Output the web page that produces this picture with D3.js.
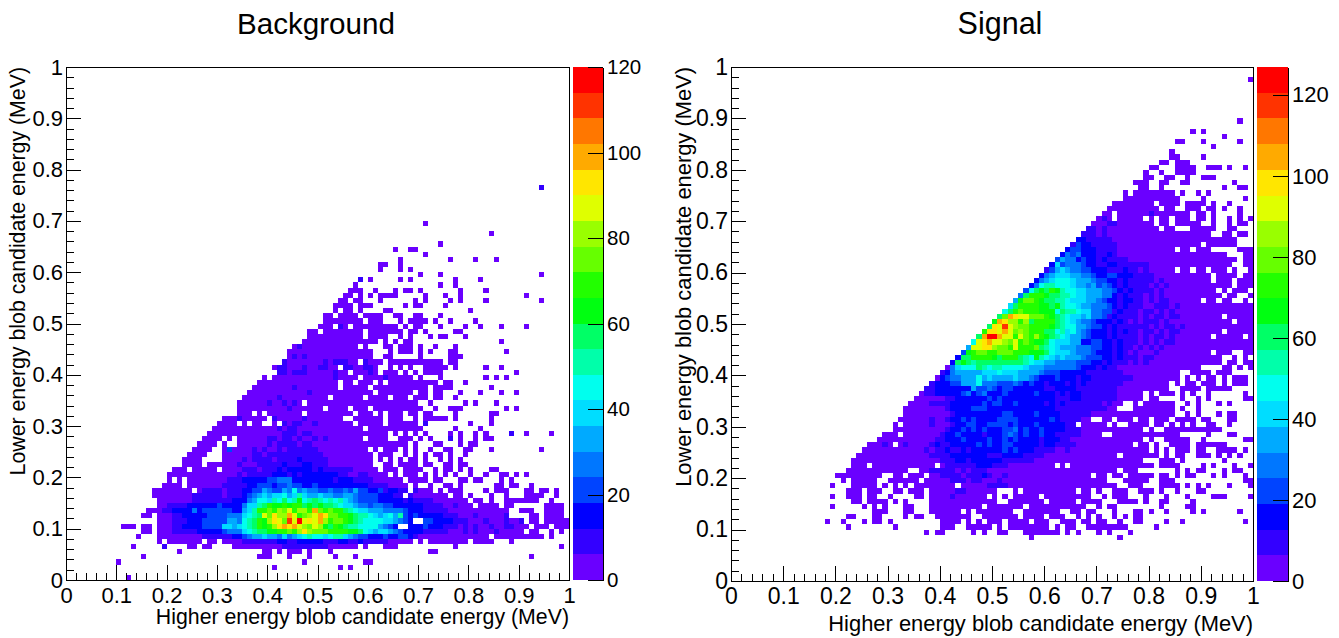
<!DOCTYPE html>
<html><head><meta charset="utf-8">
<script src="https://cdn.jsdelivr.net/npm/d3@7"></script>
<style>
html,body{margin:0;padding:0;background:#fff}
svg{display:block}
text{font-family:"Liberation Sans",Arial,sans-serif;fill:#000}
.tick line,.domain{stroke:#000;stroke-width:1;shape-rendering:crispEdges}
rect{shape-rendering:crispEdges}
</style></head><body>
<svg id="c" width="1339" height="638"></svg>
<script>
// Cell contents. One entry per y bin (index = bin from the bottom).
// Each entry: "firstXBin:bands ..." where bands are colour-band numbers (1-9, a=10 .. k=20), "." is an empty cell.
const backgroundRows = [
"12:1",
"",
"41:1 54:1 56:1",
"10:1 47:1 59:11",
"15:1 38:111 44:1 48:1 53:1 57:1 92:1",
"22:1 39:11 42:1 44:111 48:1 52:1 72:11",
"13:1 19:2 24:11 27:11 33:111 36:1111111222222222111111 59:1 63:111 77:1 98:1",
"18:1 20:1111111 28:11 31:1111 35:2222222332233333222332232222211 66:1 67:11 70:1 72:111 75:11111 81:1111 88:1",
"14:1 18:11111111122222233 35:45667665756789887899765443334334432 70:11111111111111.1111111111.1",
"15:11 18:11122222333334555 35:789aabbccdcegedddccccbba876776543 68:33322222111212111211111 92:11 96:1 98:1",
"11:111 15:11 18:11122333344445 31:7767 35:89acbceghghfedfebacba9988886543 68:333433322212121121122111 93:111.1111",
"18:11122233344444 32:6657 35:89acbegfdjfkfgfhecddcba98888776543 71:44333322211121112112 92:11.11 97:111",
"15:11 18:111223333344445555 35:789afdgeehfcdefhgddccba9987678694 68:34333332221112111112 92:11 95:1111",
"16:111 19:2233335344444433 35:679ccdcedfceechdcdcca9877666555543 69:3322222111111111111 90:111 95:1111",
"18:112222333333433333 35:5779acbbcbccababaa98776554554433 67:33332222112111.1111.11 95:1111",
"18:11111112222222233 35:356887 41:98a89b89a98989 55:7654444333332 68:322221111111 81:11 84:1 87:1111111 96:1",
"17:1111111122222212222 35:34567 40:67786797667665 54:5665444433322 68:21111111.11 80:1 84:1 87:1 91:1111 97:1",
"17:11111111.1222212222 35:334465446585655445 53:445464433423322 69:2111 74:1.1 77:11 83:1 85:111 91:11 94:11.1",
"19:1111.1111111222222 35:233444344544334 50:33333333332 61:2221111.1 72:1 75:11 78:1 85:11 88:11 92:1",
"20:1.1.1111111111 32:222 35:33333445553 46:333333323 55:3322221 62:11111 68:111 71:1 73:11 78:11 81:11 86:1 88:1",
"20:1111111111111121 36:222223332 45:3233333 52:33221122 60:1111.1 67:111 71:1.1 75:1 77:1 80:1 83:1 86:11 89:1 91:1",
"21:111.11111.111 34:1222122 41:23233 46:33323 51:222222 57:11111 63:111 67:1111 72:.1 75:11 78:1 80:1 84:11",
"23:1111.1 29:1111 33:1211122222322233 49:2221111 56:11111 63:11 66:1111 70:.11 75:11.1 79:1",
"23:1111....... 31:11112122221222 45:2322 49:222111 55:111111.1 64:1 66:1.1 69:1 71:1 74:1 76:1.1",
"24:1111.. 28:... 31:1111 35:11221222222 46:222 49:2211 53:11111111.111. 67:1.1.1 73:11 76:1 79:1",
"25:111.. 28:1 30:.1. 32:41111212 40:112122 46:2222 50:111111 56:1111.1.111.1.1 72:1 75:11 79:11 84:1 94:1",
"26:1111.1 32:..1 34:111 37:1112122 44:221221 50:1111111 57:11111111111 69:1 73:11 78:1 80:11",
"27:1111 31:.1 33:.1111 38:1122 42:12212 47:11212 52:1111111.1111 66:111 70:1.1 76:2 78:1 81:1 83:11",
"28:11111 33:1111 37:1111112 44:2212211 51:111111111 60:1111.1 67:1.1 71:1 76:1 78:1 81:1 83:1 88:2 91:1 96:1",
"29:1111111 36:1111112 43:122111111 52:11111 57:11.111111111 69:11 77:1 82:1",
"30:1111.1 36:.11.. 41:1.1 43:2122112 50:1111 54:111.11111.11 66:1111.2 80:1 84:1",
"31:1112111 38:11.2111 45:112 48:1111 52:111..11111 61:11.111 69:1 71:1111 75:1 77:1 84:1",
"34:111.1.111 43:1111.11111 53:1111.1 59:11.1.111.11 71:11 77:1 84:11",
"34:1111111111 44:2111 48:111.1 53:111 56:.111.111111 66:11 68:111 72:.1 76:111 87:1 89:1",
"34:11111 39:1211 43:21 45:21.111 51:111111111 60:1111111111 72:1 79:1 81:1 85:1",
"35:1111111 42:2111 46:111 49:111.1111 57:11.1111 63:1 64:.111 69:111 73:11 77:1",
"36:11111111 44:11 46:11211 51:111111 57:11 59:11 62:1111111.11 73:11 78:1 82:1 86:1 89:1",
"37:111111112111 49:11111.1111 58:11.111111 66:1111 70:11.1.11 74:111 84:1",
"38:111111111111 50:1111.11.1 58:111.1.111 67:111111 73:1 75:11 79:1",
"39:1.1111111111 51:1121111 58:.111121 65:1 66:111 70:1 74:1 83:1 85:1 87:1",
"42:22122211111211.11121 62:.1 64:11.1.1.111 74:1 89:1",
"41:1221112112211.2211221 62:. 64:1.1.1..1111 75:1 77:1 83:1 86:1",
"43:211111112122211.2111 63:.1 65:111111111 74:1 76:11",
"44:1212111111111111 60:1 63:11 70:1 76:111",
"44:11111111111111111 64:1 66:111 70:1 72:1 76:11 87:1",
"45:1211111111111 59:1 63:11 66:111 70:1 73:1 77:1",
"47:11111111111111 61:1 63:1 65:1 67:11 86:1",
"48:11111111111.1111 61:11 66:1 68:1 72:1 74:11 79:1",
"48:11.11111111.111111 66:1 68:1 69:1 71:1 77:11",
"50:111.21.111111111 67:1 69:11 74:1 79:1 82:1 86:1 91:1",
"51:11111111.111 66:1 68:1111 73:1 76:1 81:1",
"51:11.1111.1111 65:11 69:11 74:1",
"53:1.11.1 63:11 80:1",
"53:1111.111 67:1 69:11 75:1",
"54:11.11 62:1 69:1 71:1 76:1 78:1 83:1 94:1",
"55:11.1 60:1 62:1111 71:1 75:1 78:1 91:1",
"56:111 61:1 65:1 67:11 70:1 78:1 83:1",
"57:1 74:1 77:1",
"58:2 60:1 66:1 68:1 77:1 82:1",
"70:1 74:1 94:1",
"62:1 66:1 68:1",
"62:11 66:1",
"66:1 76:1 81:1 85:1",
"71:1",
"65:1 68:11",
"74:1",
"",
"84:1",
"",
"71:1",
"","","","","","",
"94:2"
];
const signalRows = [
"","","","","","","","",
"57:1 74:1",
"37:1 39:11 46:1 48:1 51:11 56:1111111 64:1 66:1 70:1 72:1 76:1",
"22:1 31:1 40:111 45:111 48:11.1 53:11111111 62:1.1 65:1 67:.11111111 81:1",
"18:1 21:1 25:1 27:11 30:1 40:1111 45:1 47:1 49:111.1111 58:111 62:.1 64:11 67:11.1 70:11 74:1 77:11 83:1 86:1 98:1",
"22:11 27:11 33:1 35:11 39:1111111 47:.11111 53:11.1 57:111.111 65:.1 67:.1.1 73:1 75:1 77:11",
"27:111 33:11 38:111111 45:1 46:.1111111 55:.1111111 65:11.1 69:1 73:1 77:11 80:1 83:1 88:1 90:1 97:1",
"19:1 25:1 27:1 29:1 33:11 38:1111111111.1 50:1111 54:11 56:.11111111111 70:1.1 73:1 82:1 87:11",
"23:11 26:1111 31:1 33:1 38:1111111111111 52:.1111111 60:.11111.1 68:111 74:1111 79:1 82:11 88:1",
"19:1 22:111 26:11 29:.1 34:.11 38:11112111111 50:1.1.1 55:1111.11111111 67:11 71:1 73:111 79:1 83:1 87:1 92:111 99:1",
"22:111 26:111 31:11 34:111.1111122111111 54:1.1111111111.11 70:1 73:111 78:111 82:1 85:1 89:11",
"19:1 23:11111 29:1 31:1.1.1 36:1111111 44:1111122221 54:11111111111111111111 76:111 82:1111 87:1 89:1 91:1 95:1 99:1",
"21:1 23:11111 29:.11 32:1111 37:11111222122 48:1112111 55:1111111111111111 71:1 75:11111 82:111 98:11",
"20:111 23:111111.1 30:.11 34:111 38:11222212223 48:3211 52:21111111111111111 70:11 73:11 76:11111 82:11 85:1 87:11 92:1 94:1 98:1",
"22:1111111 29:11111 35:.11 38:2222 42:212122 48:211111111 57:11111111111111111 74:.111 85:1 87:1 89:11 94:1 96:11",
"23:111.111111111111 39:.12222 44:222333 50:2221111 57:11111.1.1111111111 73:11111 78:1 79:11 82:1111 90:1 92:1 96:1 99:1",
"23:1111111111111111 39:122233 45:233333 51:322222 57:2111111111111 70:111 73:111111 80:.. 82:111 86:1 94:1",
"24:1111111111111122 40:2233333 47:332223 53:3332 57:222111111111 69:11111 75:111111 81:1 83:1 85:11 89:111 93:1 95:1 97:1",
"25:11111111111121 39:22322323333 50:3343433 57:32222112 65:1111 69:1111 73:1111111 81:1 83:1 85:111 89:11 93:1111 98:1",
"26:11121.1211112 39:32233333434 50:334433 56:3332332222 66:111 69:1111 73:1111.11.1 81:1 84:1111 89:111111",
"28:1111111111 38:122333433 47:33433 52:4343333233322 65:1111 69:11 71:1111 75:1111 80:1 83:11111 90:1 98:11",
"29:111.1111 37:111233433332 49:3334543433 59:4332222 66:21 68:111 73:111111111111 84:11 91:1 95:11",
"31:1111111111 41:233434343 50:3344534334 60:333322 66:211 69:1111 73:111111.1 82:.11111 88:111111",
"31:1.111112111 42:233443344 51:4434333433 61:33322 67:111 70:11 73:1..1111.1 81:11.1 86:1 88:1 91:11 95:1",
"32:111111211 41:23343433 49:3344443333 59:3343222 66:2 67:11 71:11 73:.111.11.111.111 86:1 88:1.11 95:11",
"33:11111111 41:1233333 48:33334433334 59:333322 65:2222 69:1111 73:111111111111 85:.. 87:1 89:1 92:.1 95:11",
"33:111111112 42:33334443 50:3333333 57:33333222222 68:2222 72:11 74:... 77:1111 81:1 82:111 86:1 89:1",
"34:1111222233 44:3333 48:4344 52:3343333 59:32323222 67:2222 71:1211 75:... 77:1.11 81:1 82:111 85:.. 87:1 89:1 93:1 95:1",
"35:11111122333 46:3334 50:34333 55:33333 60:3322233222 70:222 73:21111 78:1 80:11 82:....1 87:..1.1.1 92:...... 98:11",
"36:1223333345 46:3453 50:33433 55:33343 60:33232 65:3322222 72:2211 76:111 80:1.111.1.1.. 91:1 92:...... 98:1",
"37:2233333336 47:44543 52:44333 57:33322 62:3333222 69:22222 74:11111 79:11111111 84:..1111..1 91:1 92:1 93:111 97:..",
"38:23334466685 49:55444 54:5434 58:33233 63:3232 67:3222 71:2222 75:1111 79:11111.1.11.1 90:11 92:1.1.111",
"39:13455666867 50:666676 56:6543 60:3343 64:33233 69:222 72:22222 77:111 80:111111.1.1 90:.1 92:1.1.111.",
"40:235666667778777 55:66665 60:4443 64:3333 68:222 71:2222 75:1111 79:1 80:111111..1111.111 98:..",
"41:157888a9899888 55:8766 59:65555 64:5543 68:3323 72:2211 76:1111 80:1111111111.... 94:11 96:.1.1",
"42:3aba9aaaaaaaaa 56:9877 60:66555 65:5444 69:3323 73:2221 77:2121 80:11111111111111.11.11",
"43:3aaccccbaccca98b9876 63:766654 69:4433 73:2322 77:2121 80:21111111111111..1.1.",
"44:4bcddccdddcccbbba877 64:7655 68:5433 72:3232 76:12112 80:121111111111.1111 96:..11",
"45:6ffggeddcfcccda9876 64:6655 68:5443 72:3232 76:2121 80:21211111111111111111",
"46:8fghffedfcdcbba8777 65:6633 69:4433 73:2322 77:212 80:1212211111111111 96:1 97:1 98:11",
"47:ahkkhffcfdcecba98766 67:5433 71:3232 75:2221 79:2 80:122121111111.11111.1",
"48:cggfhfdedcccaa8978 66:6543 70:3323 74:2322 78:12 80:21212211111111.11111",
"49:agfjfeddccccba9886 67:6544 71:3232 75:2222 79:2 80:12122121111111111111",
"50:bhgeeceacccca9876 67:5543 71:3323 75:2121 79:2 80:2212111111111111.111",
"51:adhgffdddcba98776 68:7554 72:2322 76:2212 80:12212211111111.11111",
"52:8acdcccbbb8a99877 69:5544 73:2322 77:212 80:21212111111111111111",
"53:7accccbbab988766 69:55543 74:2322 78:21 80:12221211111111111111",
"54:6bddcbaa998777 68:6654 72:3323 76:3221 80:2122111111.11.11..1.",
"55:5acccbaa99877 68:66655 73:3232 77:221 80:21211111111111.11..1",
"56:48abacb988776 69:66554 74:3232 78:22 80:2121111111111.1.111.",
"57:358998887665 69:6454 73:32322 78:22 80:1212111111111111.111",
"58:35678887666 69:54433 74:2322 78:22 80:212111111111.111.111",
"59:35677766554 70:334433 76:3222 80:211111111111.1111.11",
"60:24676554433 71:32223 76:2212 80:11111.11.11.111.1..1",
"61:37455543322 72:3322 76:2222 80:1111111111111111..11",
"62:46553433232 73:2221 77:111 80:11111111111111..1 94:111.11",
"63:354533322 72:3211 76:1111 80:111111111111111 95:...11",
"64:344333222 73:2111 77:111 80:11111.11.111 92:..... 97:111",
"65:2433222 72:22111 77:111 80:1111111111.111111 97:.",
"66:332222 72:2111 76:1111 80:1111111111111111 96:1",
"67:222121 73:111 76:1111 80:111111111111 92:..11 96:.11",
"68:2212111 75:1111 79:111.11 85:...1111 90:111 93:.. 95:11 97:..",
"69:11122 74:111111 80:1.11.11111 90:.. 92:1 93:.. 95:1 97:11",
"70:121 73:.11111 79:.1.11.111.11.1 91:.1 93:.. 95:1 96:.1 98:.1",
"71:111 73:.111111211 83:11111 88:.111 91:.1 93:... 97:1",
"72:1111111111.111 85:. 87:111 90:. 91:11 94:1 97:1",
"73:11111111 81:. 82:1111 87:1111 92:1 95:1",
"75:1111111 82:11 84:11 90:1 98:1",
"75:1 77:11111111 86:1 89:1 91:1",
"78:11 82:1 94:1 97:11",
"77:111 82:11 86:11 96:1",
"79:11 83:11 87:1 90:111",
"79:1 82:1 85:1 86:111",
"80:11 85:11 87:11 91:111 95:1 98:1",
"82:11 85:111",
"84:11 90:1",
"84:1",
"92:1",
"85:11 90:1 97:1",
"94:1",
"88:1 90:1",
"",
"97:1",
"","","","","","","",
"99:1"
];
const bgMax = 120, sigMax = 126.9;
const bandCount = 20;
const bandColors = ["#6a00ff","#3300ff","#0000ff","#0044ff","#0077ff","#00aaff","#00ddff","#00ffee","#00ffaa","#00ff66","#00ff11","#22ff00","#66ff00","#99ff00","#dfff00","#ffe600","#ffaa00","#ff7700","#ff3300","#ff0000"];
const xTitle = "Higher energy blob candidate energy (MeV)";
const yTitle = "Lower energy blob candidate energy (MeV)";
const barTicks = [0,20,40,60,80,100,120];

const svg = d3.select("#c");

function parseRows(rows, max){
  const cells = new Map();
  rows.forEach((r,j)=>{
    r.split(" ").filter(s=>s.includes(":")).forEach(seg=>{
      const [s,levels] = seg.split(":");
      [...levels].forEach((ch,k)=>{
        const i = +s+k;
        if(i>99) return;
        const key = i+"_"+j;
        if(ch==="."){ cells.delete(key); return; }
        const b = parseInt(ch,36);
        if(!(b>=1)) return;
        cells.set(key,{i,j,v:(b-0.5)*max/bandCount});
      });
    });
  });
  return [...cells.values()];
}

function panel(o){
  const x = d3.scaleLinear([0,1],[o.x0,o.x1]);
  const y = d3.scaleLinear([0,1],[o.y0,o.y1]);
  const color = d3.scaleQuantize([0,o.max],bandColors);
  const g = svg.append("g");
  g.selectAll("rect.cell").data(parseRows(o.rows,o.max)).join("rect")
    .attr("class","cell")
    .attr("x",d=>x(d.i/100)).attr("y",d=>y((d.j+1)/100))
    .attr("width",d=>x((d.i+1)/100)-x(d.i/100))
    .attr("height",d=>y(d.j/100)-y((d.j+1)/100))
    .attr("fill",d=>color(d.v));
  const fmt = v=>(Math.abs(v)<1e-9?"0":Math.abs(v-1)<1e-9?"1":d3.format(".1f")(v));
  const majors = d3.range(0,11).map(v=>v/10), minors = d3.range(0,51).map(v=>v/50);
  const ax = (g2,fn,scale,vals,len,lab,pad)=>{
    g2.call(fn(scale).tickValues(vals).tickSize(-len).tickSizeOuter(0).tickPadding(pad).tickFormat(lab?fmt:""))
      .selectAll("text").attr("font-size",o.tick);
  };
  const gb = g.append("g").attr("transform",`translate(0,${o.y0})`);
  ax(gb.append("g"),d3.axisBottom,x,minors,7.5,false,0);
  ax(gb.append("g"),d3.axisBottom,x,majors,15,true,7);
  const gl = g.append("g").attr("transform",`translate(${o.x0},0)`);
  ax(gl.append("g"),d3.axisLeft,y,minors,7.5,false,0);
  ax(gl.append("g"),d3.axisLeft,y,majors,15,true,3);
  g.append("path").attr("d",`M${o.x0},${o.y1}H${o.x1}V${o.y0}`).attr("fill","none").attr("stroke","#000").attr("shape-rendering","crispEdges");
  g.append("text").attr("x",o.x1).attr("y",o.xTitleY).attr("text-anchor","end").attr("font-size",o.title).text(xTitle);
  g.append("text").attr("transform",`translate(${o.yTitleX},${o.y1}) rotate(-90)`).attr("text-anchor","end").attr("font-size",o.title).text(yTitle);
  g.append("text").attr("x",o.mainX).attr("y",34).attr("text-anchor","middle").attr("font-size",o.main).text(o.name);
  // colour bar
  const z = d3.scaleLinear([0,o.max],[o.y0,o.y1]);
  const bandW = o.max/bandCount;
  g.selectAll("rect.band").data(bandColors).join("rect").attr("class","band")
    .attr("x",o.bx0).attr("width",o.bx1-o.bx0)
    .attr("y",(d,k)=>z((k+1)*bandW)).attr("height",(d,k)=>z(k*bandW)-z((k+1)*bandW))
    .attr("fill",d=>d);
  const gz = g.append("g").attr("transform",`translate(${o.bx1},0)`);
  gz.call(d3.axisRight(z).tickValues(barTicks).tickSize(-15).tickSizeOuter(0).tickPadding(4).tickFormat(d3.format("d")))
    .selectAll("text").attr("font-size",o.barTick);
}

panel({name:"Background",rows:backgroundRows,max:bgMax,x0:66,x1:569,y0:580,y1:67,bx0:573,bx1:603,tick:22,barTick:20.5,title:21.3,main:29.6,xTitleY:624,yTitleX:25,mainX:316});
panel({name:"Signal",rows:signalRows,max:sigMax,x0:731,x1:1253,y0:581,y1:67,bx0:1257,bx1:1288,tick:23,barTick:22,title:21.9,main:30.5,xTitleY:631,yTitleX:691,mainX:1000});
</script>
</body></html>
